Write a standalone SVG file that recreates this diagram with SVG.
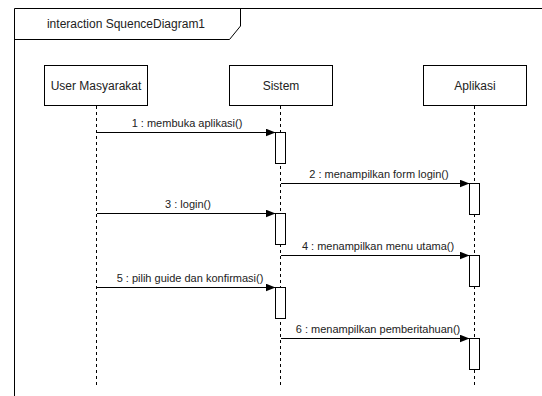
<svg xmlns="http://www.w3.org/2000/svg" width="542" height="396" viewBox="0 0 542 396">
  <style>
    .frame { fill: none; stroke: #000; stroke-width: 1; }
    .head { fill: #fff; stroke: #000; stroke-width: 1; }
    .life { stroke: #000; stroke-width: 1; stroke-dasharray: 3 3; }
    .act { fill: #fff; stroke: #000; stroke-width: 1; }
    .msg { stroke: #000; stroke-width: 1; fill: none; marker-end: url(#arrow); }
    .name { font-family: "Liberation Sans", Arial, sans-serif; font-size: 12px; fill: #222; text-anchor: middle; }
    .label { font-family: "Liberation Sans", Arial, sans-serif; font-size: 11px; fill: #222; text-anchor: middle; }
  </style>
  <defs>
    <marker id="arrow" viewBox="0 0 10 8" refX="10" refY="4" markerWidth="10" markerHeight="8" markerUnits="userSpaceOnUse" orient="auto">
      <path d="M0,0 L10,4 L0,8 Z" fill="#000"/>
    </marker>
  </defs>
  <rect width="542" height="396" fill="#fff"/>

  <!-- interaction frame with its name tab -->
  <g id="frame">
    <path class="frame" d="M14.5,396 L14.5,8.5 L542,8.5"/>
    <path class="frame" d="M14.5,39.5 L229.5,39.5 L240.5,26 L240.5,8.5"/>
    <text class="label" x="126" y="28" style="font-size:12px">interaction SquenceDiagram1</text>
  </g>

  <!-- lifelines -->
  <g id="user-masyarakat">
    <line class="life" x1="96.5" y1="106" x2="96.5" y2="388"/>
    <rect class="head" x="44.5" y="65.5" width="103" height="40"/>
    <text class="name" x="96" y="90">User Masyarakat</text>
  </g>
  <g id="sistem">
    <line class="life" x1="280.5" y1="106" x2="280.5" y2="388"/>
    <rect class="head" x="229.5" y="65.5" width="103" height="40"/>
    <text class="name" x="281" y="90">Sistem</text>
  </g>
  <g id="aplikasi">
    <line class="life" x1="474.5" y1="106" x2="474.5" y2="388"/>
    <rect class="head" x="423.5" y="65.5" width="103" height="40"/>
    <text class="name" x="475" y="90">Aplikasi</text>
  </g>

  <!-- activation bars -->
  <g id="activations">
    <rect class="act" x="275.5" y="132.5" width="10" height="31"/>
    <rect class="act" x="469.5" y="183.5" width="10" height="31"/>
    <rect class="act" x="275.5" y="213.5" width="10" height="31"/>
    <rect class="act" x="469.5" y="255.5" width="10" height="31"/>
    <rect class="act" x="275.5" y="287.5" width="10" height="31"/>
    <rect class="act" x="469.5" y="338.5" width="10" height="31"/>
  </g>

  <!-- messages -->
  <g id="connectors">
    <line class="msg" x1="97" y1="132.5" x2="275.5" y2="132.5"/>
    <text class="label" x="187" y="127">1 : membuka aplikasi()</text>
    <line class="msg" x1="281" y1="183.5" x2="469.5" y2="183.5"/>
    <text class="label" x="379" y="178">2 : menampilkan form login()</text>
    <line class="msg" x1="97" y1="213.5" x2="275.5" y2="213.5"/>
    <text class="label" x="188" y="208">3 : login()</text>
    <line class="msg" x1="281" y1="255.5" x2="469.5" y2="255.5"/>
    <text class="label" x="378" y="250">4 : menampilkan menu utama()</text>
    <line class="msg" x1="97" y1="287.5" x2="275.5" y2="287.5"/>
    <text class="label" x="190" y="282">5 : pilih guide dan konfirmasi()</text>
    <line class="msg" x1="281" y1="338.5" x2="469.5" y2="338.5"/>
    <text class="label" x="378" y="333">6 : menampilkan pemberitahuan()</text>
  </g>
</svg>
